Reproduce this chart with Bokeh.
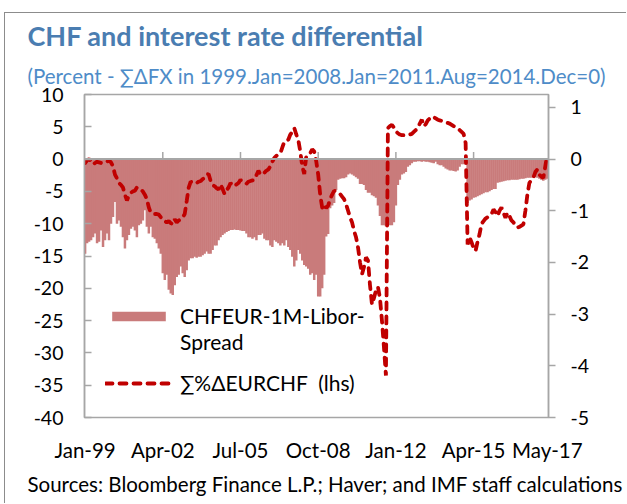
from bokeh.plotting import figure
from bokeh.models import (Range1d, LinearAxis, FixedTicker, Span, Title, Legend, LegendItem)
from bokeh.embed import file_html
from bokeh.resources import INLINE

# ---------------- data ----------------
months = list(range(233))  # month index, 0 = Jan-1999

tick_months = [0, 39, 78, 117, 156, 195, 232]
tick_labels = ["Jan-99", "Apr-02", "Jul-05", "Oct-08", "Jan-12", "Apr-15", "May-17"]
zero_tick_months = [39, 78, 117, 156, 195]

left_ticks = [10, 5, 0, -5, -10, -15, -20, -25, -30, -35, -40]
left_tick_labels = ["10", "5", "0", "-5", "-10", "-15", "-20", "-25", "-30", "-35", "-40"]
right_ticks = [1, 0, -1, -2, -3, -4, -5]
right_tick_labels = ["1", "0", "-1", "-2", "-3", "-4", "-5"]

# CHFEUR 1M Libor spread (rhs, percent)
libor_spread = [
    -1.83, -1.63, -1.60, -1.57, -1.51, -1.44, -1.63, -1.60, -1.38, -1.70,
    -1.57, -1.44, -1.57, -1.25, -1.12, -0.83, -1.25, -1.19, -1.31, -1.51,
    -1.73, -1.57, -1.47, -1.35, -1.31, -1.38, -1.51, -1.28, -1.25, -1.19,
    -0.99, -1.31, -1.44, -1.31, -1.51, -1.54, -1.63, -1.73, -1.83, -2.21,
    -2.34, -2.24, -2.53, -2.60, -2.63, -2.44, -2.28, -2.24, -2.08, -2.21,
    -2.28, -2.15, -1.96, -1.92, -1.92, -1.89, -1.91, -1.89, -1.89, -1.86,
    -1.83, -1.79, -1.83, -1.83, -1.76, -1.67, -1.67, -1.57, -1.51, -1.47,
    -1.44, -1.41, -1.39, -1.37, -1.37, -1.36, -1.37, -1.37, -1.38, -1.39,
    -1.39, -1.44, -1.51, -1.51, -1.54, -1.51, -1.57, -1.47, -1.47, -1.44,
    -1.54, -1.57, -1.57, -1.67, -1.70, -1.57, -1.60, -1.63, -1.67, -1.63,
    -1.67, -1.57, -1.70, -1.76, -1.89, -2.08, -1.96, -1.76, -1.83, -1.96,
    -2.05, -2.08, -2.12, -2.24, -2.21, -2.34, -2.24, -2.66, -2.66, -2.50,
    -2.24, -1.50, -1.45, -0.95, -0.90, -0.85, -0.60, -0.40, -0.38, -0.37,
    -0.37, -0.35, -0.30, -0.28, -0.30, -0.32, -0.35, -0.38, -0.48, -0.48,
    -0.50, -0.60, -0.65, -0.65, -0.70, -0.72, -0.75, -0.90, -1.10, -1.28,
    -1.28, -1.30, -1.28, -1.28, -1.28, -1.22, -0.90, -0.50, -0.40, -0.30,
    -0.28, -0.25, -0.15, -0.12, -0.08, -0.05, -0.05, -0.04, -0.04, -0.05,
    -0.04, -0.05, -0.05, -0.06, -0.07, -0.08, -0.05, -0.10, -0.12, -0.12,
    -0.15, -0.18, -0.20, -0.22, -0.22, -0.23, -0.24, -0.22, -0.15, -0.10,
    -0.10, -0.10, -0.85, -0.80, -0.78, -0.75, -0.74, -0.72, -0.70, -0.68,
    -0.66, -0.64, -0.64, -0.62, -0.60, -0.58, -0.58, -0.46, -0.45, -0.44,
    -0.43, -0.42, -0.41, -0.41, -0.40, -0.40, -0.40, -0.40, -0.39, -0.38,
    -0.38, -0.37, -0.36, -0.36, -0.36, -0.35, -0.35, -0.36, -0.38, -0.40,
    -0.42, -0.40, -0.38,
]

# cumulative % change EURCHF (lhs)
eurchf_cum = [
    -0.6, -0.2, 0.0, -0.3, -0.8, -0.6, -0.4, -0.5, -0.6, -0.6,
    -0.5, -0.4, -0.2, -0.5, -1.1, -2.4, -3.0, -3.7, -4.0, -4.4,
    -5.5, -6.4, -5.6, -5.2, -5.0, -4.9, -4.4, -4.5, -4.7, -5.0,
    -5.5, -6.2, -7.5, -8.3, -8.4, -8.5, -8.5, -8.6, -9.0, -9.3,
    -9.6, -9.8, -9.6, -9.9, -10.1, -9.3, -9.8, -9.5, -9.3, -9.0,
    -8.5, -6.5, -4.4, -3.5, -3.6, -3.8, -3.7, -3.5, -3.4, -3.1,
    -2.9, -2.4, -2.3, -3.4, -4.0, -4.2, -4.5, -4.7, -3.9, -4.6,
    -5.4, -4.8, -4.4, -3.7, -4.0, -4.2, -3.9, -3.7, -3.2, -3.5,
    -3.7, -3.8, -3.5, -3.4, -3.3, -3.2, -2.5, -1.8, -2.4, -2.3,
    -2.1, -1.8, -1.6, -1.1, -0.4, 0.2, 0.5, 0.7, 0.9, 1.8,
    2.7, 2.9, 3.0, 3.8, 4.2, 4.8, 3.8, 3.0, 1.2, -1.1,
    -2.3, 0.4, 0.6, 0.9, 1.5, 1.2, -0.3, -2.4, -5.5, -7.5,
    -7.0, -7.6, -7.2, -6.2, -5.5, -4.9, -5.0, -5.1, -5.4, -5.8,
    -6.2, -7.0, -8.0, -9.0, -9.8, -11.1, -12.1, -13.7, -16.0, -17.8,
    -16.7, -15.2, -15.7, -19.5, -22.5, -21.5, -20.3, -19.8, -21.5, -25.0,
    -29.1, -33.5, 4.8, 5.1, 5.3, 4.9, 4.3, 4.0, 3.8, 3.7,
    3.7, 3.7, 3.7, 3.8, 3.9, 4.2, 4.5, 4.8, 5.5, 6.1,
    5.1, 5.4, 6.0, 6.3, 6.6, 6.5, 6.3, 6.1, 6.0, 5.9,
    5.8, 5.7, 5.6, 5.5, 5.3, 5.1, 5.0, 4.8, 4.5, 4.2,
    3.9, 2.5, -13.2, -12.1, -12.9, -13.8, -14.2, -12.8, -11.6, -10.0,
    -9.6, -9.2, -9.0, -8.8, -8.5, -7.8, -8.2, -8.8, -8.0, -7.5,
    -8.3, -9.1, -8.3, -8.8, -9.5, -9.8, -10.2, -10.6, -10.5, -10.3,
    -10.1, -8.0, -5.5, -3.7, -3.2, -2.9, -2.0, -1.6, -2.4, -2.7,
    -2.9, -1.1, 0.7,
]

title_text = "CHF and interest rate differential"
subtitle_text = "(Percent - \u2211\u0394FX in 1999.Jan=2008.Jan=2011.Aug=2014.Dec=0)"
source_text = "Sources: Bloomberg Finance L.P.; Haver; and IMF staff calculations"
bar_label_1 = "CHFEUR-1M-Libor-"
bar_label_2 = "Spread"
line_label = "\u2211%\u0394EURCHF  (lhs)"

# ---------------- styles ----------------
FONT = "Lato"
BAR_COLOR = "#C97B7B"
LINE_COLOR = "#C00000"
GRID_GRAY = "#A6A6A6"

W, H = 622, 491
BL, BR, BT, BB = 79, 79, 81, 87
TXT_X = 22
p = figure(width=W, height=H, output_backend="svg", toolbar_location=None,
           x_range=Range1d(-0.3, 232.6), y_range=Range1d(-40, 10),
           min_border_left=BL, min_border_right=BR, min_border_top=BT, min_border_bottom=BB)
p.extra_y_ranges = {"right": Range1d(-5, 1.25)}
p.grid.visible = False
p.background_fill_color = "white"
p.border_fill_color = "white"
p.outline_line_color = GRID_GRAY
p.outline_line_width = 1.5
p.styles = {"border-top": "1px solid #8c8c8c", "border-left": "1px solid #8c8c8c",
            "margin-top": "12px", "margin-left": "4px"}

bars = p.vbar(x=months, top=0, bottom=libor_spread, width=1.25, y_range_name="right",
              fill_color=BAR_COLOR, line_color=None)
dummy = p.line(x=[], y=[], line_alpha=0)

zero = Span(location=0, dimension="width", line_color=GRID_GRAY, line_width=2)
p.add_layout(zero)
p.segment(x0=zero_tick_months, x1=zero_tick_months, y0=[0] * len(zero_tick_months),
          y1=[1.1] * len(zero_tick_months), line_color=GRID_GRAY, line_width=1.5)

line = p.line(months, eurchf_cum, line_color=LINE_COLOR, line_width=3.8,
              line_dash="7 7", line_cap="round")

# axes
xa = p.xaxis[0]
xa.ticker = FixedTicker(ticks=tick_months)
xa.major_label_overrides = dict(zip(tick_months, tick_labels))
xa.axis_line_color = None
xa.major_tick_line_color = None
xa.minor_tick_line_color = None
xa.major_label_standoff = 14
xa.major_label_text_font = FONT
xa.major_label_text_font_size = "20.5px"
xa.major_label_text_color = "black"

ya = p.yaxis[0]
ya.ticker = FixedTicker(ticks=left_ticks)
ya.major_label_overrides = dict(zip(left_ticks, left_tick_labels))
ya.axis_line_color = GRID_GRAY
ya.axis_line_width = 1.5
ya.major_tick_line_color = GRID_GRAY
ya.major_tick_line_width = 1.5
ya.major_tick_in = 7
ya.major_tick_out = 0
ya.minor_tick_line_color = None
ya.major_label_standoff = 21
ya.major_label_text_font = FONT
ya.major_label_text_font_size = "19.5px"
ya.major_label_text_color = "black"

ra = LinearAxis(y_range_name="right", ticker=FixedTicker(ticks=right_ticks))
ra.major_label_overrides = dict(zip(right_ticks, right_tick_labels))
ra.axis_line_color = GRID_GRAY
ra.axis_line_width = 1.5
ra.major_tick_line_color = GRID_GRAY
ra.major_tick_line_width = 1.5
ra.major_tick_in = 0
ra.major_tick_out = 7
ra.minor_tick_line_color = None
ra.major_label_standoff = 15
ra.major_label_text_font = FONT
ra.major_label_text_font_size = "19.5px"
ra.major_label_text_color = "black"
p.add_layout(ra, "right")

# legends
leg1 = Legend(items=[LegendItem(label=bar_label_1, renderers=[bars]),
                     LegendItem(label=bar_label_2, renderers=[dummy])],
              location=(21, 63), orientation="vertical")
leg2 = Legend(items=[LegendItem(label=line_label, renderers=[line])],
              location=(21, 22), orientation="vertical")
for lg in (leg1, leg2):
    lg.border_line_color = None
    lg.background_fill_alpha = 0
    lg.padding = 0
    lg.margin = 0
    lg.spacing = 1
    lg.glyph_width = 67
    lg.glyph_height = 12
    lg.label_height = 25
    lg.label_standoff = 8
    lg.label_text_font = FONT
    lg.label_text_font_size = "21px"
    lg.label_text_color = "black"
    p.add_layout(lg, "center")

# titles (subtitle first: nearest the frame) and source line
p.add_layout(Title(text=subtitle_text, align="left", offset=TXT_X - BL, standoff=14,
                   text_font=FONT, text_font_size="20.5px", text_font_style="normal",
                   text_color="#4E8CC8"), "above")
p.add_layout(Title(text=title_text, align="left", offset=TXT_X - BL, standoff=5,
                   text_font=FONT, text_font_size="27px", text_font_style="bold",
                   text_color="#4A7DB1"), "above")
p.add_layout(Title(text=source_text, align="left", offset=TXT_X - BL, standoff=10,
                   text_font=FONT, text_font_size="20.5px", text_font_style="normal",
                   text_color="black"), "below")

open("out.html", "w").write(file_html(p, INLINE))
